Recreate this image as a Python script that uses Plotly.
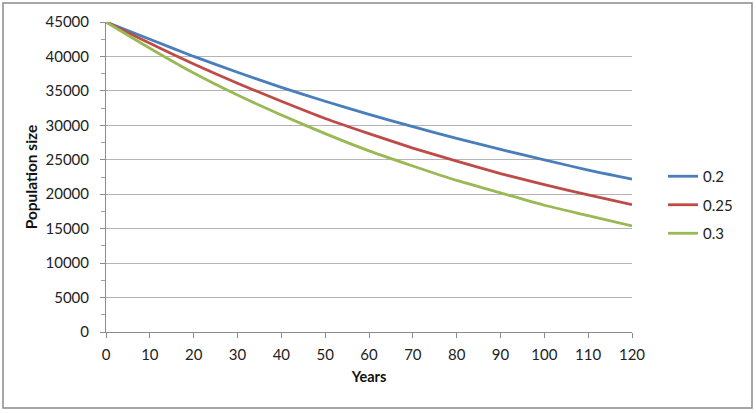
import plotly.graph_objects as go

years = [0, 10, 20, 30, 40, 50, 60, 70, 80, 90, 100, 110, 120]
series_names = ["0.2", "0.25", "0.3"]
pop_02 = [45000, 42500, 40000, 37700, 35500, 33500, 31600, 29800, 28100, 26500, 25000, 23500, 22200]
pop_025 = [45000, 41900, 38900, 36100, 33500, 31000, 28800, 26700, 24800, 23000, 21400, 19900, 18500]
pop_03 = [45000, 41200, 37600, 34400, 31500, 28800, 26300, 24100, 22000, 20200, 18400, 16900, 15400]
colors = ["#4A7EBB", "#BE4B48", "#98B954"]

fig = go.Figure()
for name, vals, c in zip(series_names, [pop_02, pop_025, pop_03], colors):
    fig.add_trace(go.Scatter(x=years, y=vals, name=name, mode="lines",
                             line=dict(color=c, width=2.8, shape="spline", smoothing=0.6),
                             legendgroup=name))

font = "Lato, 'Open Sans', sans-serif"
W, H = 756, 413
L, T = 106, 22
R = W - 632
B = H - 332
pw, ph = W - L - R, H - T - B

def px_x(x):
    return (x - L) / pw

def px_y(y):
    return (H - B - y) / ph

fig.update_layout(
    width=W, height=H,
    margin=dict(l=L, r=R, t=T, b=B, autoexpand=False),
    paper_bgcolor="white", plot_bgcolor="white",
    font=dict(family=font, size=15, color="#222"),
    showlegend=True,
    legend=dict(x=px_x(663), y=px_y(160), xanchor="left", yanchor="top",
                font=dict(size=15, color="#222"), tracegroupgap=6,
                bgcolor="rgba(0,0,0,0)", itemwidth=30),
    xaxis=dict(range=[0, 120], tickmode="array", tickvals=list(range(0, 121, 10)),
               showgrid=False, showline=True, linecolor="#8c8c8c", linewidth=1,
               ticks="outside", ticklen=5, tickcolor="#8c8c8c", ticklabelstandoff=4,
               title=dict(text="<b>Years</b>", font=dict(size=14.5, color="#111"), standoff=9),
               zeroline=False, fixedrange=True, automargin=False),
    yaxis=dict(range=[0, 45000], tickmode="array", tickvals=list(range(0, 45001, 5000)),
               tickformat="d",
               showgrid=True, gridcolor="#b4b4b4", gridwidth=1,
               showline=True, linecolor="#8c8c8c", linewidth=1,
               ticks="outside", ticklen=5, tickcolor="#8c8c8c", ticklabelstandoff=8,
               minor=dict(ticks="outside", ticklen=4, dtick=2500, tickcolor="#a0a0a0", showgrid=False),
               title=dict(text="<b>Population size</b>", font=dict(size=15.5, color="#111"), standoff=4),
               zeroline=False, fixedrange=True, automargin=False),
)

fig.add_shape(type="rect", xref="paper", yref="paper",
              x0=px_x(3), x1=px_x(752), y0=px_y(408), y1=px_y(3),
              line=dict(color="#8a8a8a", width=1.5), fillcolor="rgba(0,0,0,0)", layer="below")

fig.write_html("out.html", config={"displayModeBar": False},
               post_script="document.body.style.margin='0';document.body.style.overflow='hidden';")
